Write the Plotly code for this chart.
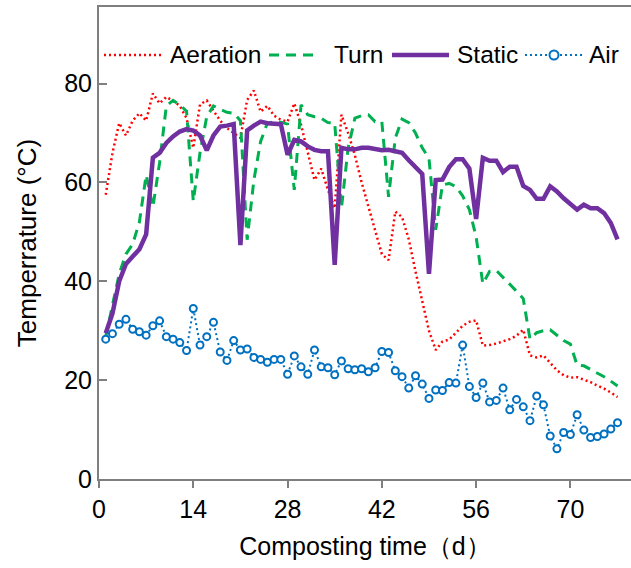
import plotly.graph_objects as go

days = list(range(1, 78))

aeration = [57.5, 66, 72, 69.5, 72.5, 74, 72.5, 78, 76, 77.3,
            76.5, 75.5, 73, 67, 75.8, 76.6, 74.5, 72.5, 71, 70,
            69, 76.7, 78.6, 74.3, 75.5, 73.5, 72.7, 72.3, 76, 71.7,
            66, 60.5, 62.8, 58.5, 54.8, 73.7, 70, 65.5, 60, 55,
            50.4, 45.5, 44.3, 54.1, 53, 48.5, 42, 36, 30, 26.1,
            27.8, 28.2, 29.5, 31, 31.8, 32.1, 27, 27.1, 27.4, 27.8,
            28.3, 29, 30.2, 25, 24.6, 25, 23.5, 22, 21, 20.5,
            20.6, 20.1, 19.6, 18.9, 18.3, 17.5, 16.6]

turn = [28.8, 35.5, 41.5, 45.5, 47.5, 52, 61.5, 55, 64, 75.5,
        76.6, 75.7, 74.4, 56.2, 66, 73.3, 75.5, 74.8, 74.2, 74,
        72.5, 48.4, 60.5, 68.3, 72, 72.3, 72.2, 71.8, 58.5, 75.7,
        73.7, 73.3, 73, 72.1, 72, 54.8, 67, 73, 73.5, 73.7,
        72.3, 72.3, 57.1, 69, 72.8, 72.1, 70, 67, 64.9, 50.4,
        59.5, 59.8, 59.2, 57.3, 54.5, 49, 39.5, 42, 42.2, 40.8,
        39.5, 38, 36.5, 28.3, 29.6, 30, 30.2, 29, 28, 27.3,
        23, 22.9, 22.2, 21.5, 20.7, 19.8, 18.8]

static = [29.5, 33.5, 40, 43.5, 45, 46.5, 49.5, 65, 66, 68,
          69.3, 70.3, 70.8, 70.5, 69.5, 66.5, 69.5, 71.3, 71.5, 71.8,
          47.3, 70.5, 71.5, 72.3, 72, 72, 71.8, 65.6, 68.6, 68.3,
          67.3, 66.6, 66.3, 66.3, 43.3, 67, 66.7, 66.7, 67, 67,
          66.8, 66.5, 66.6, 66.3, 66, 64.5, 63, 61.7, 41.5, 60.5,
          60.6, 63.1, 64.7, 64.7, 62.8, 52.6, 65, 64.4, 64.4, 62.1,
          63.2, 63.2, 59.3, 58.5, 56.7, 56.7, 59.2, 58.2, 56.8, 55.5,
          54.5, 55.5, 54.8, 54.8, 53.8, 51.8, 48.5]

air = [28.3, 29.4, 31.3, 32.3, 30.3, 29.8, 29.1, 31.0, 32.0, 28.8,
       28.3, 27.6, 26.0, 34.5, 27.1, 28.8, 31.7, 25.7, 24.0, 28.0,
       26.1, 26.3, 24.6, 24.2, 23.6, 24.2, 24.2, 21.2, 24.9, 22.7,
       21.2, 26.1, 22.7, 22.5, 21.1, 23.9, 22.3, 22.1, 22.3, 21.7,
       22.5, 25.8, 25.6, 21.9, 20.7, 18.4, 20.9, 19.2, 16.3, 18.0,
       17.9, 19.5, 19.4, 27.1, 18.7, 16.5, 19.4, 15.6, 15.9, 18.4,
       14.0, 16.1, 14.6, 11.8, 16.8, 15.0, 8.7, 6.1, 9.4, 9.0,
       13.0, 9.9, 8.4, 8.6, 9.1, 10.1, 11.4]

series_names = ["Aeration", "Turn", "Static", "Air"]
x_ticks = [0, 14, 28, 42, 56, 70]
y_ticks = [0, 20, 40, 60, 80]

FONT = "Liberation Sans, Arial, sans-serif"
AXIS_COLOR = "#7f7f7f"
COLORS = ["#ff0000", "#00b050", "#7030a0", "#0070c0"]
DASHES = ["2px,3px", "10px,7px", "solid", "2px,3px"]
WIDTHS = [2.5, 3, 4.5, 2]

fig = go.Figure()
for name, vals, c, d, w in zip(series_names, [aeration, turn, static, air], COLORS, DASHES, WIDTHS):
    if name == "Air":
        fig.add_trace(go.Scatter(x=days, y=vals, mode="lines+markers", name=name,
                                 line=dict(color=c, width=w, dash=d),
                                 marker=dict(symbol="circle", size=7, color="white",
                                             line=dict(color=c, width=2))))
    else:
        fig.add_trace(go.Scatter(x=days, y=vals, mode="lines", name=name,
                                 line=dict(color=c, width=w, dash=d)))

# ---- manual legend (layout decoration, pixel based) ----
L, T, PW, PH = 99, 7, 532, 472


def px_x(p):
    return (p - L) / PW


def px_y(p):
    return (T + PH - p) / PH


leg_y = px_y(55)
sample_spans = [(104, 162), (269, 317), (392, 449), (525, 582)]
text_left = [169, 333, 456, 588]
shapes = []
annotations = []
for name, c, d, w, (a, b), tl in zip(series_names, COLORS, DASHES, WIDTHS, sample_spans, text_left):
    shapes.append(dict(type="line", xref="paper", yref="paper", x0=px_x(a), x1=px_x(b),
                       y0=leg_y, y1=leg_y, line=dict(color=c, width=w, dash=d)))
    annotations.append(dict(xref="paper", yref="paper", x=px_x(tl), y=leg_y, text=name,
                            xanchor="left", yanchor="middle", showarrow=False,
                            font=dict(size=24.5, color="black", family=FONT), borderpad=0))
# marker on the Air legend sample
shapes.append(dict(type="circle", xref="paper", yref="paper", xsizemode="pixel",
                   ysizemode="pixel", xanchor=px_x(554), yanchor=leg_y,
                   x0=-4.5, x1=4.5, y0=-4.5, y1=4.5, fillcolor="white",
                   line=dict(color=COLORS[3], width=2)))

fig.update_layout(
    width=631, height=568,
    margin=dict(l=L, r=0, t=T, b=568 - T - PH),
    paper_bgcolor="white", plot_bgcolor="white",
    font=dict(family=FONT, size=25, color="black"),
    showlegend=False,
    shapes=shapes,
    annotations=annotations,
    xaxis=dict(range=[0, 79], tickvals=x_ticks, ticktext=[str(v) for v in x_ticks],
               showgrid=False, zeroline=False, showline=True, linecolor=AXIS_COLOR,
               linewidth=2, mirror=True, ticks="outside", ticklen=7, tickwidth=2,
               tickcolor=AXIS_COLOR, tickfont=dict(size=25),
               title=dict(text="Composting time（d）", standoff=15, font=dict(size=25))),
    yaxis=dict(range=[0, 95.5], tickvals=y_ticks, ticktext=[str(v) for v in y_ticks],
               showgrid=False, zeroline=False, showline=True, linecolor=AXIS_COLOR,
               linewidth=2, ticks="inside", ticklen=8, tickwidth=2,
               tickcolor=AXIS_COLOR, tickfont=dict(size=25),
               title=dict(text="Temperrature (°C)", standoff=20, font=dict(size=26))),
)

fig.write_html("out.html")
